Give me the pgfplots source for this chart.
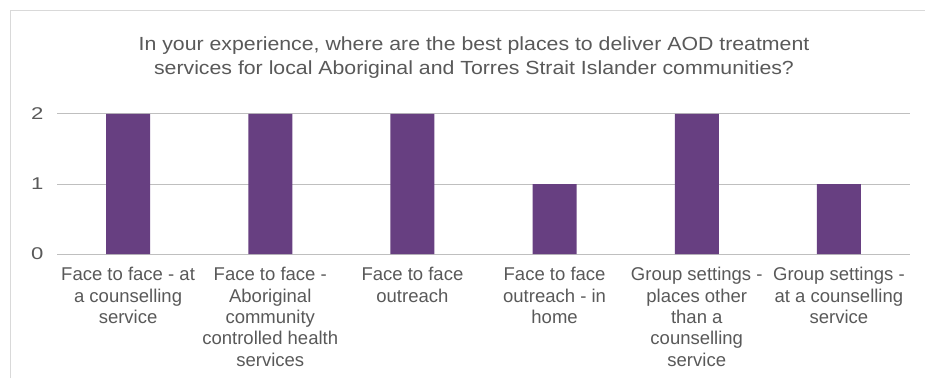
\documentclass[border=0pt]{standalone}
\usepackage{pgfplots}
\pgfplotsset{compat=1.18}
\usepackage{fontspec}
\setmainfont{Liberation Sans}
\newfontfamily\titlefont{Liberation Sans}[FakeStretch=1.12]
\newfontfamily\numfont{Liberation Sans}[FakeStretch=1.3]
\definecolor{txt}{HTML}{595959}
\definecolor{grid}{HTML}{D9D9D9}
\definecolor{bar}{HTML}{673F81}
\begin{document}
\begin{tikzpicture}[x=1bp,y=1bp]
\useasboundingbox (0,0) rectangle (925,378);
\fill[white] (0,0) rectangle (925,378);
\draw[grid, line width=1bp] (10.5,0) -- (10.5,367.5) -- (925,367.5);
\node[txt, align=center, font=\titlefont\fontsize{19bp}{24bp}\selectfont, anchor=base] at (474,304) {In your experience, where are the best places to deliver AOD treatment\\services for local Aboriginal and Torres Strait Islander communities?};
\begin{axis}[
  at={(57bp,124bp)}, anchor=south west,
  scale only axis, width=853bp, height=140bp,
  xmin=-0.5, xmax=5.5, ymin=0, ymax=2,
  axis line style={draw=none},
  ytick={0,1,2}, xtick={0,...,5},
  major tick length=0pt, tick style={draw=none},
  xmajorgrids=false, ymajorgrids, grid style={grid, line width=1bp},
  /pgf/number format/assume math mode=true,
  tick label style={txt, font=\fontsize{18.5bp}{21.3bp}\selectfont},
  yticklabel style={xshift=-10bp, font=\numfont\fontsize{17bp}{20bp}\selectfont},
  xticklabel style={align=center, anchor=north, yshift=-10bp},
  xticklabels={{Face to face - at\\a counselling\\service},{Face to face -\\Aboriginal\\community\\controlled health\\services},{Face to face\\outreach},{Face to face\\outreach - in\\home},{Group settings -\\places other\\than a\\counselling\\service},{Group settings -\\at a counselling\\service}},
  clip=false,
]
\addplot[ybar, bar width=44bp, fill=bar, draw=none] coordinates {(0,2) (1,2) (2,2) (3,1) (4,2) (5,1)};
\end{axis}
\end{tikzpicture}
\end{document}
